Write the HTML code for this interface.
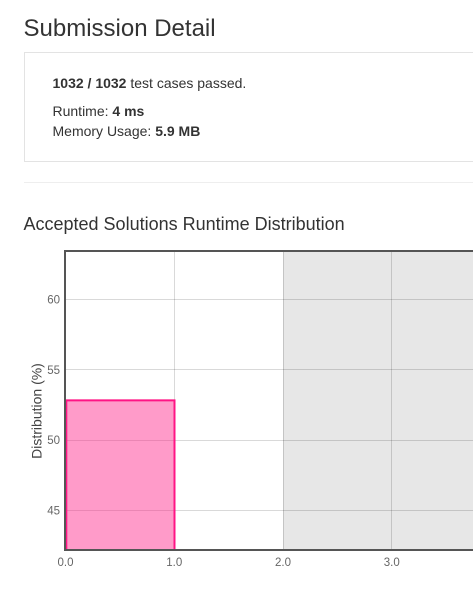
<!DOCTYPE html>
<html lang="en">
<head>
<meta charset="utf-8">
<title>Submission Detail</title>
<style>
html,body{margin:0;padding:0;background:#fff;width:473px;height:592px;overflow:hidden}
body{font-family:"Liberation Sans",Arial,sans-serif;color:#333;position:relative}
#title{position:absolute;left:23.5px;top:14px;margin:0;font-size:24px;font-weight:400;line-height:30px;white-space:nowrap}
#panel{position:absolute;left:24px;top:52px;width:460px;height:108px;border:1px solid #e3e3e3;box-sizing:content-box}
.row{position:absolute;left:27.5px;font-size:14px;line-height:20px;white-space:nowrap}
#rule{position:absolute;left:24px;top:182px;width:449px;height:1px;background:#eee}
#sub{position:absolute;left:23.5px;top:212px;margin:0;font-size:18px;font-weight:400;line-height:24px;white-space:nowrap}
#chart{position:absolute;left:0;top:0}
</style>
</head>
<body>
<h1 id="title">Submission Detail</h1>
<div id="panel">
  <div class="row" style="top:20px"><b>1032 / 1032</b> test cases passed.</div>
  <div class="row" style="top:48px">Runtime: <b>4 ms</b></div>
  <div class="row" style="top:68px">Memory Usage: <b>5.9 MB</b></div>
</div>
<div id="rule"></div>
<h2 id="sub">Accepted Solutions Runtime Distribution</h2>
<svg id="chart" width="473" height="592" xmlns="http://www.w3.org/2000/svg"></svg>
<script>
var xTicks = [0, 1, 2, 3];
var yTicks = [45, 50, 55, 60];
var binStarts = [0];
var binEnds = [1];
var binValues = [52.83];
var shadedFrom = [2];
var xDomain = [0, 3.75];
var yDomain = [42.18, 63.46];
var yAxisLabel = 'Distribution (%)';

var svg = document.getElementById('chart');
var left = 65.7, right = 473, top_ = 251, bottom = 550;
var xScale = 108.75;
function X(v) { return left + (v - xDomain[0]) * xScale; }
function Y(v) { return bottom - (v - yDomain[0]) / (yDomain[1] - yDomain[0]) * (bottom - top_); }
function snap(p) { return Math.floor(p) + 0.5; }
function make(tag, props) {
  var el = document.createElementNS('http://www.w3.org/2000/svg', tag);
  for (var k in props) el.setAttribute(k, props[k]);
  svg.appendChild(el);
  return el;
}

shadedFrom.forEach(function (s) {
  var r = make('rect', {x: Math.floor(X(s)), y: top_, width: right - Math.floor(X(s)) + 5, height: bottom - top_, fill: '#000', 'fill-opacity': 0.095});
  
  
});

xTicks.forEach(function (t) {
  if (t > 0) {
    var g = make('line', {x1: snap(X(t)), x2: snap(X(t)), y1: top_, y2: bottom, stroke: '#000', 'stroke-opacity': 0.15, 'stroke-width': 1});
    
    
  }
  var l = make('text', {x: X(t) - 0.2, y: 566, 'text-anchor': 'middle', 'font-size': 11.5, fill: '#666', 'font-family': '"Liberation Sans",sans-serif'});
  l.textContent = t.toFixed(1);
  
  
});

yTicks.forEach(function (t) {
  var g = make('line', {x1: left, x2: right + 5, y1: snap(Y(t)), y2: snap(Y(t)), stroke: '#000', 'stroke-opacity': 0.15, 'stroke-width': 1});
  
  
  var l = make('text', {x: 60, y: Y(t) + 4, 'text-anchor': 'end', 'font-size': 11.5, fill: '#666', 'font-family': '"Liberation Sans",sans-serif'});
  l.textContent = t;
  
  
});

binValues.forEach(function (v, i) {
  var x0 = X(binStarts[i]) + 0.6, x1 = X(binEnds[i]) + 0.05;
  var b = make('rect', {x: x0, y: Y(v), width: x1 - x0, height: bottom - Y(v), fill: '#ff1b84', 'fill-opacity': 0.44, stroke: '#ff1485', 'stroke-width': 2});
  
  
});

var frame = make('path', {d: 'M' + (right + 5) + ' ' + top_ + 'H65V' + bottom + 'H' + (right + 5), fill: 'none', stroke: '#555', 'stroke-width': 2});



var yt = make('text', {x: 0, y: 0, transform: 'translate(41.5 411) rotate(-90)', 'text-anchor': 'middle', 'font-size': 14, fill: '#444', 'font-family': '"Liberation Sans",sans-serif'});
yt.textContent = yAxisLabel;


</script>
</body>
</html>
